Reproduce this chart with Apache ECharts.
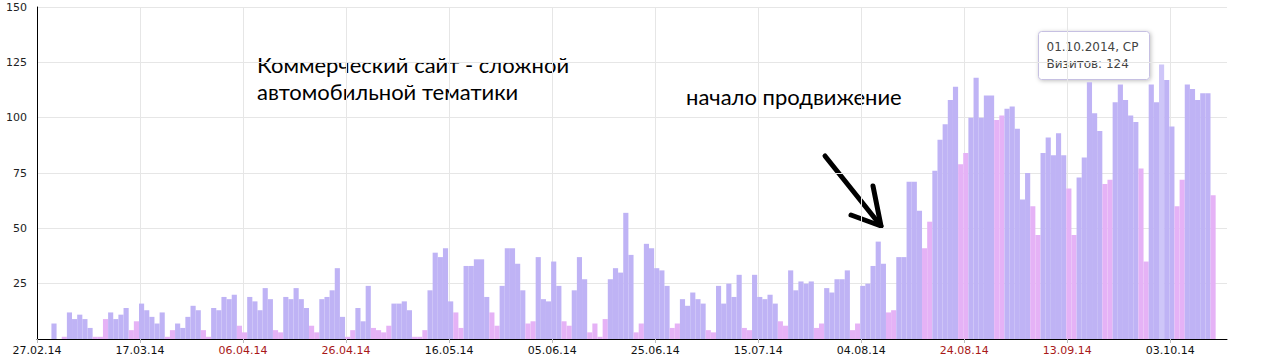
<!DOCTYPE html>
<html>
<head>
<meta charset="utf-8">
<script src="https://cdn.jsdelivr.net/npm/echarts@6/dist/echarts.min.js"></script>
<style>
html,body{margin:0;padding:0;background:#fff;}
#chart{width:1261px;height:362px;}
</style>
</head>
<body>
<div id="chart"></div>
<script>
// ---------- DATA ----------
// daily visits starting 28.02.2014
const startDay = [2014, 1, 28];
const visits = [
  7,0,1,12,9,11,9,5,1,1,
  9,12,9,11,14,4,8,16,13,10,
  7,12,1,4,7,5,10,15,13,4,
  1,14,13,19,18,20,6,3,19,17,
  13,23,18,4,3,19,18,23,18,14,
  6,3,18,19,22,32,10,1,4,14,
  8,24,5,4,3,6,16,16,17,13,
  1,1,4,22,39,37,41,17,12,5,
  33,33,36,36,19,12,6,24,41,41,
  34,22,7,8,37,18,17,35,24,8,
  6,22,37,27,3,7,1,9,27,32,
  30,57,38,3,7,43,41,32,31,24,
  5,7,18,15,21,18,16,4,3,24,
  16,25,19,29,5,4,29,19,18,20,
  16,8,6,31,22,26,25,26,5,7,
  23,21,27,27,31,4,7,24,25,33,
  44,34,12,13,37,37,71,71,58,41,
  53,76,90,97,108,114,79,84,100,118,
  100,110,110,99,101,104,105,95,63,75,
  60,47,84,91,83,93,83,68,47,73,
  82,116,102,94,70,72,107,115,108,101,
  98,77,35,115,107,124,117,96,60,72,
  115,113,108,111,111,65
];
// public holidays (non-weekend days off)
const holidays = ['10.03.14','01.05.14','02.05.14','09.05.14','12.06.14','13.06.14'];
// x-axis tick labels
const tickLabels = ['27.02.14','17.03.14','06.04.14','26.04.14','16.05.14','05.06.14',
                    '25.06.14','15.07.14','04.08.14','24.08.14','13.09.14','03.10.14'];
const yTicks = [0, 25, 50, 75, 100, 125, 150];
const weekdayNames = ['ВС','ПН','ВТ','СР','ЧТ','ПТ','СБ'];
const tooltipDay = '01.10.14';
const tooltipLabel = 'Визитов';
const noteLines = ['Коммерческий сайт - сложной', 'автомобильной тематики'];
const note2 = 'начало продвижение';

// ---------- BUILD ----------
function pad(n){return (n<10?'0':'')+n;}
const dates = visits.map((v,i)=>new Date(startDay[0], startDay[1], startDay[2]+i));
const dateStr = dates.map(d=>pad(d.getDate())+'.'+pad(d.getMonth()+1)+'.'+String(d.getFullYear()).slice(2));
const isOff = dates.map((d,i)=>d.getDay()===0||d.getDay()===6||holidays.indexOf(dateStr[i])>=0);
const tipIdx = dateStr.indexOf(tooltipDay);
const tipDate = dates[tipIdx];
const tipLine1 = pad(tipDate.getDate())+'.'+pad(tipDate.getMonth()+1)+'.'+tipDate.getFullYear()+', '+weekdayNames[tipDate.getDay()];
const tipLine2 = tooltipLabel+': '+visits[tipIdx];

const AXIS_OFFSET = 3.3;   // first day sits 3.3 slots right of axis origin
const TICK_STEP = 20;
const X_MAX = 231;

function labelIsWeekend(s){
  const p = s.split('.');
  const d = new Date(2000+ +p[2], +p[1]-1, +p[0]);
  return d.getDay()===0 || d.getDay()===6;
}

const PURPLE = '#bfb3f5', PINK = '#e5b2f6', HILITE = '#cec6f8';

const seriesData = visits.map((v,i)=>({
  value:[i+AXIS_OFFSET, v],
  itemStyle:{color: i===tipIdx ? HILITE : (isOff[i] ? PINK : PURPLE)}
}));

const noteFont = '22px Lato';
const noteStyle = (t)=>({text:t, font:noteFont, fill:'#000', verticalAlign:'middle'});

const chart = echarts.init(document.getElementById('chart'), null, {renderer:'svg'});
chart.setOption({
  animation:false,
  backgroundColor:'#fff',
  grid:{left:37, right:34, top:7, bottom:23, containLabel:false},
  xAxis:{
    type:'value', min:0, max:X_MAX, interval:TICK_STEP,
    axisLine:{show:true, onZero:false, lineStyle:{color:'#000', width:1}},
    axisTick:{show:true, length:4, lineStyle:{color:'#bbb'}},
    axisLabel:{
      showMaxLabel:false, margin:6, fontFamily:'DejaVu Sans', fontSize:11,
      formatter:(v)=>{const k=Math.round(v/TICK_STEP); return (Math.abs(v-k*TICK_STEP)<1e-6 && tickLabels[k])?tickLabels[k]:'';},
      color:(v)=>{const k=Math.round(v/TICK_STEP); const s=tickLabels[k]; return (s && labelIsWeekend(s))?'#a81818':'#111';}
    },
    splitLine:{show:true, showMaxLine:false, lineStyle:{color:'#e6e6e6', width:1}}
  },
  yAxis:{
    type:'value', min:yTicks[0], max:yTicks[yTicks.length-1], interval:yTicks[1]-yTicks[0],
    axisLine:{show:true, lineStyle:{color:'#000', width:1}},
    axisTick:{show:false},
    axisLabel:{showMinLabel:false, margin:10, fontFamily:'DejaVu Sans', fontSize:11, color:'#222'},
    splitLine:{show:true, lineStyle:{color:'#e6e6e6', width:1}}
  },
  series:[{
    type:'bar', barWidth:5.15, data:seriesData, silent:true
  }],
  graphic:[
    {type:'rect', shape:{x:253, y:53, width:318, height:51}, style:{fill:'#fff'}},
    {type:'rect', shape:{x:682, y:86, width:228, height:25}, style:{fill:'#fff'}},
    {type:'text', x:257, y:64, style:noteStyle(noteLines[0])},
    {type:'text', x:257, y:91, style:noteStyle(noteLines[1])},
    {type:'text', x:686, y:96, style:noteStyle(note2)},
    {type:'polyline', shape:{points:[[825,156],[881,226]]}, style:{stroke:'#000', lineWidth:5, lineCap:'round', fill:null}},
    {type:'polyline', shape:{points:[[873,186],[881,226],[851,215]]}, style:{stroke:'#000', lineWidth:5, lineCap:'round', lineJoin:'round', fill:null}},
    {type:'group', x:1038.5, y:31.5, children:[
      {type:'rect', shape:{x:0, y:0, width:111, height:48, r:3},
       style:{fill:'#fff', stroke:'#c6c0e2', lineWidth:1, shadowBlur:4, shadowOffsetX:1, shadowOffsetY:1, shadowColor:'rgba(0,0,0,0.25)'}},
      {type:'text', x:8, y:15, style:{text:tipLine1, font:'12px "DejaVu Sans"', fill:'#444', verticalAlign:'middle'}},
      {type:'text', x:8, y:32, style:{text:tipLine2, font:'12px "DejaVu Sans"', fill:'#444', verticalAlign:'middle'}}
    ]}
  ]
});
</script>
</body>
</html>
